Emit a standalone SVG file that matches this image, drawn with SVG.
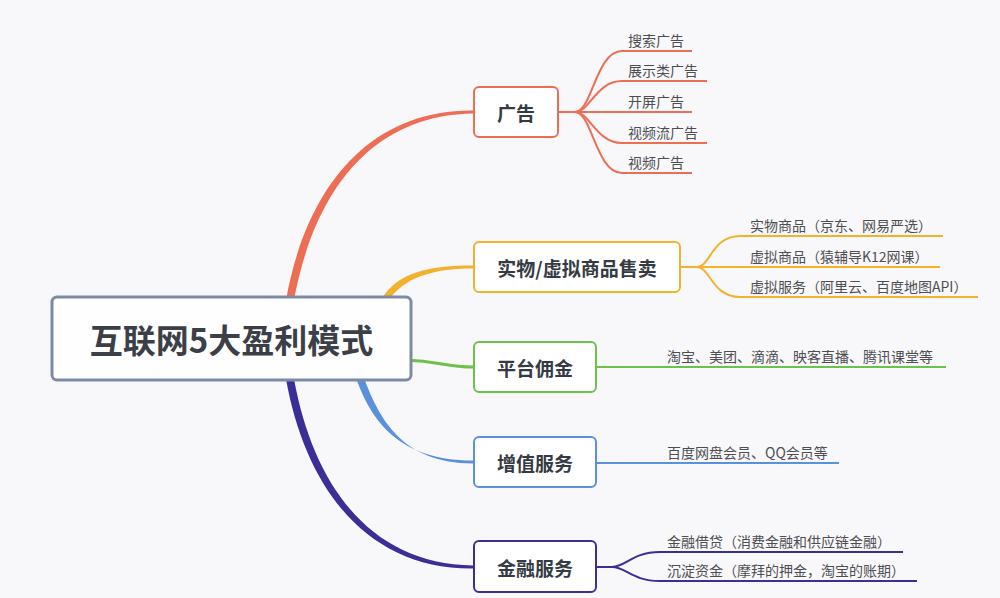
<svg xmlns="http://www.w3.org/2000/svg" width="1000" height="598" viewBox="0 0 1000 598">
<style>
text{font-family:"Noto Sans CJK SC","Noto Sans",sans-serif}
.lbl{font-size:19px;font-weight:bold;fill:#353b44;text-anchor:middle;dominant-baseline:central}
.leaf{font-size:14px;fill:#4e4e52}
.box{fill:#ffffff;stroke-width:2}
.ln{fill:none;stroke-width:2}
</style>
<rect x="0" y="0" width="1000" height="598" fill="#f8f8fa"/>
<g id="connectors">
  <!-- main branches -->
  <path d="M286 310 L286 300 C306 188 369 109.5 473 110.5 L473 113.5 C371 115 314 192 294 300 L294 310 Z" fill="#ee6d55"/>
  <path d="M381 305 L381 300 C397 272 430 265.5 473 265.5 L473 268.5 C432 268.5 404 278 389 300 L389 305 Z" fill="#f2b22d"/>
  <path d="M405 360 C440 361 445 367 473 367" fill="none" stroke="#6cc24a" stroke-width="3"/>
  <path d="M356 372 L356 378 C371 420 398 460.5 473 460.5 L473 463.5 C402 463.5 379 418 364 378 L364 372 Z" fill="#5b90dc"/>
  <path d="M286 370 L286 379 C306 491 369 569.5 473 568.5 L473 565.5 C371 564 314 487 294 379 L294 370 Z" fill="#3b2e98"/>
  <!-- 广告 leaves -->
  <g stroke="#ee6d55" class="ln">
    <path class="ln" d="M558 112 H575 C592 112 596 51 622 51 H692"/>
    <path class="ln" d="M575 112 C590 112 596 81 622 81 H707"/>
    <path class="ln" d="M575 112 H692"/>
    <path class="ln" d="M575 112 C590 112 596 143 622 143 H707"/>
    <path class="ln" d="M575 112 C592 112 596 173 622 173 H692"/>
  </g>
  <!-- 实物/虚拟 leaves -->
  <g stroke="#f2b22d" class="ln">
    <path class="ln" d="M680 267 H697 C710 267 712 236 740 236 H943"/>
    <path class="ln" d="M697 267 H940"/>
    <path class="ln" d="M697 267 C710 267 712 297 740 297 H978"/>
  </g>
  <path class="ln" stroke="#6cc24a" d="M596 367 H946"/>
  <path class="ln" stroke="#5b90dc" d="M596 463 H839"/>
  <g stroke="#3b2e98" class="ln">
    <path class="ln" d="M596 567 H612 C626 567 632 552 660 552 H903"/>
    <path class="ln" d="M612 567 C626 567 632 581 660 581 H917"/>
  </g>
</g>
<g id="root">
  <rect x="52" y="297" width="359" height="83" rx="5" fill="#fefefe" stroke="#7d8aa5" stroke-width="3"/>
  <text x="231.5" y="339" font-size="33" font-weight="bold" fill="#3b4048" text-anchor="middle" dominant-baseline="central">互联网5大盈利模式</text>
</g>
<g id="n-ad">
  <rect class="box" x="474" y="87" width="84" height="50" rx="5" stroke="#ee6d55"/>
  <text class="lbl" x="516" y="112">广告</text>
</g>
<g id="n-sale">
  <rect class="box" x="474" y="242" width="206" height="50" rx="5" stroke="#f2b22d"/>
  <text class="lbl" x="577" y="267">实物/虚拟商品售卖</text>
</g>
<g id="n-commission">
  <rect class="box" x="474" y="342" width="122" height="50" rx="5" stroke="#6cc24a"/>
  <text class="lbl" x="535" y="367">平台佣金</text>
</g>
<g id="n-vas">
  <rect class="box" x="474" y="437" width="122" height="50" rx="5" stroke="#5b90dc"/>
  <text class="lbl" x="535" y="462">增值服务</text>
</g>
<g id="n-fin">
  <rect class="box" x="474" y="541" width="122" height="51" rx="5" stroke="#3b2e98"/>
  <text class="lbl" x="535" y="567">金融服务</text>
</g>
<g id="leaves-ad">
  <text class="leaf" x="628" y="46">搜索广告</text>
  <text class="leaf" x="628" y="76">展示类广告</text>
  <text class="leaf" x="628" y="107">开屏广告</text>
  <text class="leaf" x="628" y="138">视频流广告</text>
  <text class="leaf" x="628" y="168">视频广告</text>
</g>
<g id="leaves-sale">
  <text class="leaf" x="750" y="231">实物商品（京东、网易严选）</text>
  <text class="leaf" x="750" y="262">虚拟商品（猿辅导K12网课）</text>
  <text class="leaf" x="750" y="292">虚拟服务（阿里云、百度地图API）</text>
</g>
<g id="leaf-commission">
  <text class="leaf" x="667" y="362">淘宝、美团、滴滴、映客直播、腾讯课堂等</text>
</g>
<g id="leaf-vas">
  <text class="leaf" x="667" y="458">百度网盘会员、QQ会员等</text>
</g>
<g id="leaves-fin">
  <text class="leaf" x="667" y="547">金融借贷（消费金融和供应链金融）</text>
  <text class="leaf" x="667" y="576">沉淀资金（摩拜的押金，淘宝的账期）</text>
</g>
</svg>
